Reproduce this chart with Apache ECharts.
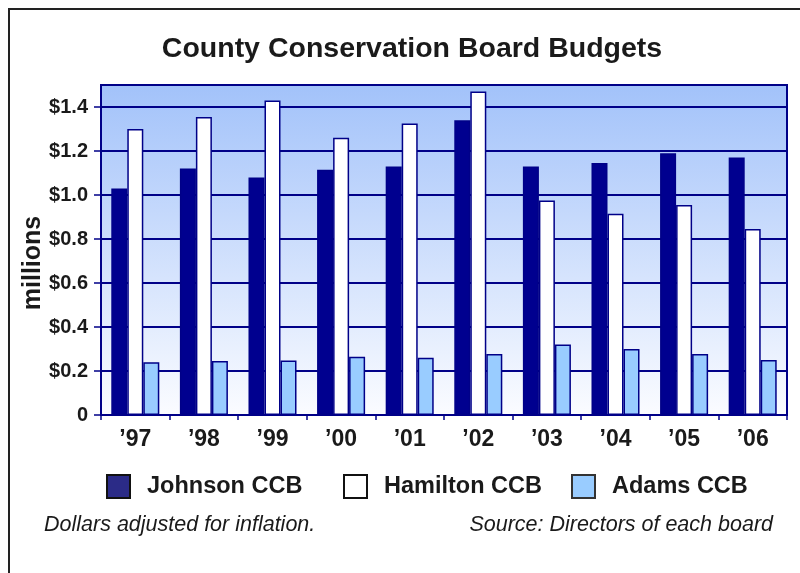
<!DOCTYPE html>
<html>
<head>
<meta charset="utf-8">
<script src="https://cdn.jsdelivr.net/npm/echarts@6/dist/echarts.min.js"></script>
<style>
  html, body { margin: 0; padding: 0; background: #fff; }
  #chart { width: 800px; height: 573px; }
</style>
</head>
<body>
<div id="chart"></div>
<script>
const years = ['\u201997', '\u201998', '\u201999', '\u201900', '\u201901', '\u201902', '\u201903', '\u201904', '\u201905', '\u201906']
const johnson = [1.03, 1.12, 1.08, 1.115, 1.13, 1.34, 1.13, 1.145, 1.19, 1.17]
const hamilton = [1.30, 1.355, 1.43, 1.26, 1.325, 1.47, 0.975, 0.915, 0.955, 0.845]
const adams = [0.24, 0.245, 0.248, 0.265, 0.26, 0.277, 0.32, 0.30, 0.277, 0.25]

const navy = '#000088'
const font = "'Liberation Sans', Arial, sans-serif"
const textColor = '#1a1a1a'

const chart = echarts.init(document.getElementById('chart'))

function barSeries(name, data, fill) {
  return {
    name,
    type: 'bar',
    data,
    barGap: '0%',
    barCategoryGap: '30%',
    itemStyle: { color: fill, borderColor: navy, borderWidth: 1.5 },
  }
}

// one legend per entry so the uneven spacing of the original can be kept
function legendItem(name, left, fill, border) {
  return {
    top: 469,
    left,
    icon: 'rect',
    itemWidth: 23,
    itemHeight: 23,
    textStyle: { fontFamily: font, fontWeight: 'bold', fontSize: 23.5, color: textColor, padding: [0, 0, 0, 12] },
    data: [{ name, itemStyle: { color: fill, borderColor: border, borderWidth: 2 } }],
  }
}

chart.setOption({
  animation: false,
  textStyle: { fontFamily: font },
  title: {
    text: 'County Conservation Board Budgets',
    left: 407,
    top: 30,
    textAlign: 'center',
    textStyle: { fontFamily: font, fontWeight: 'bold', fontSize: 28.5, color: textColor },
  },
  legend: [
    legendItem('Johnson CCB', 101, '#2b2b87', '#111'),
    legendItem('Hamilton CCB', 338, '#fff', '#111'),
    legendItem('Adams CCB', 566, '#99ccff', '#333'),
  ],
  grid: {
    left: 101,
    right: 13,
    top: 85,
    bottom: 158,
    show: true,
    borderColor: navy,
    borderWidth: 2,
    backgroundColor: new echarts.graphic.LinearGradient(0, 0, 0, 1, [
      { offset: 0, color: '#a2c2fa' },
      { offset: 1, color: '#fbfcff' },
    ]),
  },
  xAxis: {
    type: 'category',
    data: years,
    axisLine: { lineStyle: { color: navy, width: 2 } },
    axisTick: { show: true, length: 5, lineStyle: { color: navy, width: 1.5 } },
    axisLabel: { margin: 13, fontFamily: font, fontWeight: 'bold', fontSize: 23, color: textColor },
  },
  yAxis: {
    type: 'value',
    min: 0,
    max: 1.5,
    interval: 0.2,
    axisLine: { show: true, lineStyle: { color: navy, width: 2 } },
    axisTick: { show: true, length: 7, lineStyle: { color: navy, width: 1.5 } },
    splitLine: { lineStyle: { color: navy, width: 2 } },
    axisLabel: {
      margin: 13,
      showMaxLabel: false,
      fontFamily: font,
      fontWeight: 'bold',
      fontSize: 20,
      color: textColor,
      formatter: (v) => (v === 0 ? '0' : '$' + v.toFixed(1)),
    },
  },
  graphic: [
    { type: 'polyline', shape: { points: [[9, 573], [9, 9], [800, 9]] }, style: { stroke: '#222', lineWidth: 2, fill: null } },
    {
      type: 'text', x: 33, y: 263, rotation: Math.PI / 2,
      style: { text: 'millions', fontFamily: font, fontWeight: 'bold', fontSize: 25, fill: textColor, align: 'center', verticalAlign: 'middle' },
    },
    {
      type: 'text', left: 44, top: 514,
      style: { text: 'Dollars adjusted for inflation.', fontFamily: font, fontStyle: 'italic', fontSize: 21.5, fill: textColor },
    },
    {
      type: 'text', right: 27, top: 514,
      style: { text: 'Source: Directors of each board', fontFamily: font, fontStyle: 'italic', fontSize: 21.5, fill: textColor },
    },
  ],
  series: [
    barSeries('Johnson CCB', johnson, '#00008f'),
    barSeries('Hamilton CCB', hamilton, '#ffffff'),
    barSeries('Adams CCB', adams, '#99ccff'),
  ],
})
</script>
</body>
</html>
